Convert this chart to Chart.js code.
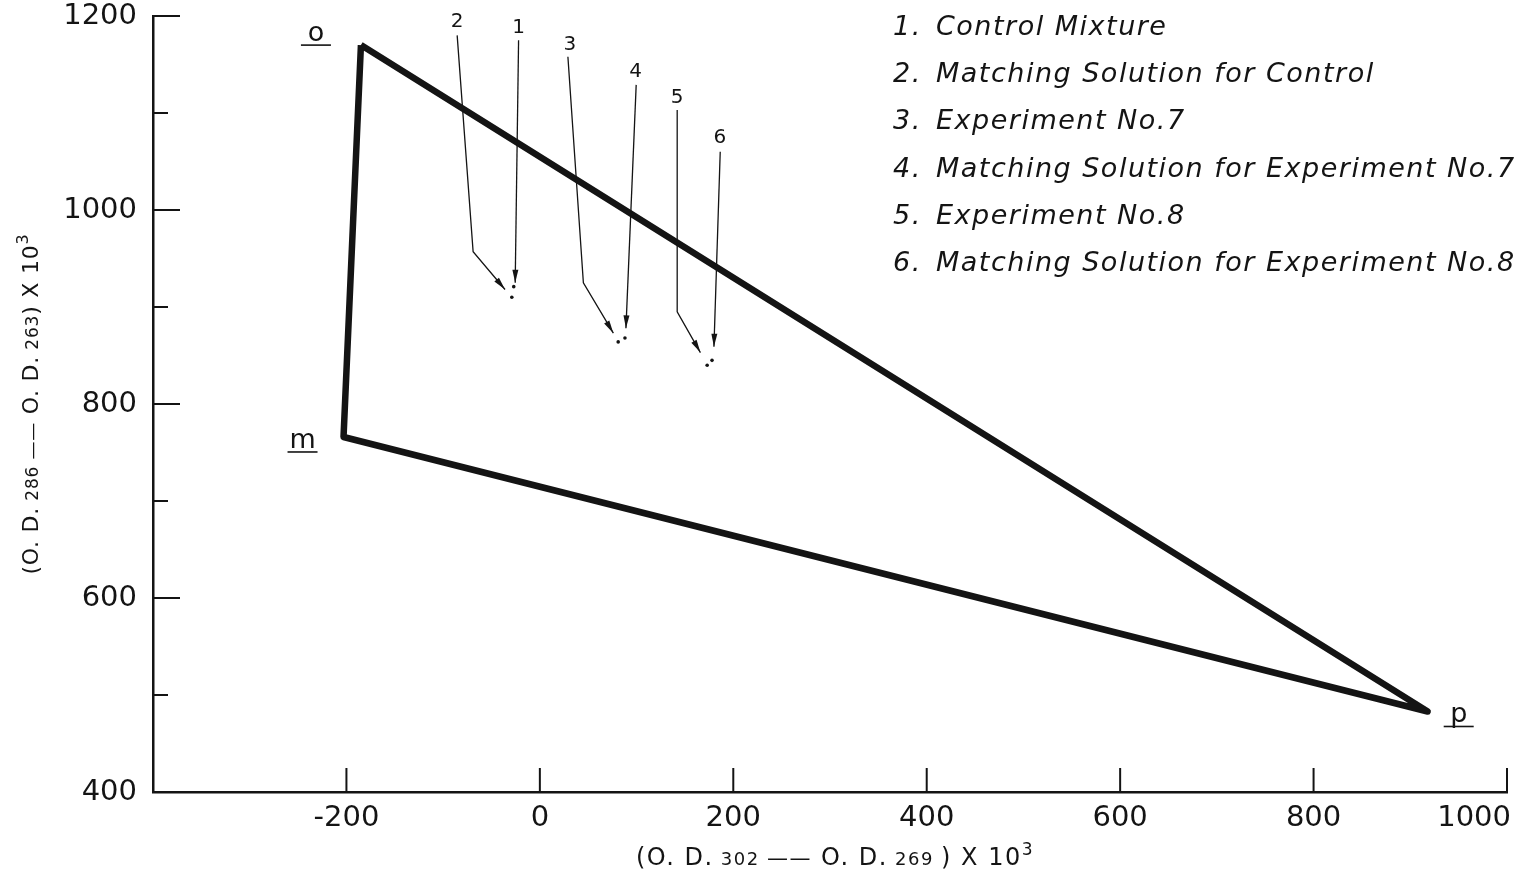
<!DOCTYPE html>
<html>
<head>
<meta charset="utf-8">
<script src="https://cdn.jsdelivr.net/npm/chart.js@4/dist/chart.umd.min.js"></script>
<style>
  html, body { margin: 0; padding: 0; background: #fff; }
  #wrap { width: 1528px; height: 876px; }
</style>
</head>
<body>
<div id="wrap"><canvas id="triChart" width="1528" height="876"></canvas></div>
<script>
// triangle o-m-p (x = O.D.302 - O.D.269, y = O.D.286 - O.D.263, both x10^3)
const vertexNames = ["o", "m", "p"];
const vertexX = [-185, -203, 918];
const vertexY = [1170, 766, 483];

// measured mixtures 1..6
const pointNames = ["1", "2", "3", "4", "5", "6"];
const pointX = [-27, -29, 81, 88, 173, 178];
const pointY = [921, 910, 864, 868, 840, 845];

// leader lines from each number down to its point (data units)
const leaderPaths = [
	[[-22, 1175], [-25.5, 925]],
	[[-85.5, 1180], [-69, 957], [-36, 918]],
	[[29, 1158], [45, 925], [76, 873]],
	[[99.6, 1129], [89, 878]],
	[[142, 1103], [142, 895], [166, 853]],
	[[186.5, 1060], [180, 859]],
];
const leaderLabelX = [-22, -85.5, 31, 99, 142, 186];
const leaderLabelY = [1188, 1194, 1170, 1142, 1116, 1074];

const legendItems = [
	"Control Mixture",
	"Matching Solution for Control",
	"Experiment No.7",
	"Matching Solution for Experiment No.7",
	"Experiment No.8",
	"Matching Solution for Experiment No.8",
];

// axis ticks
const xMin = -400, xMax = 1000, xStep = 200;
const yMin = 400, yMax = 1200, yStep = 100;
const yLabelEvery = 200;

const INK = "#141414";
const FONT = "'DejaVu Sans', sans-serif";

const triangle = vertexX.map((x, i) => ({ x: x, y: vertexY[i] }));
triangle.push({ x: vertexX[0], y: vertexY[0] });
const points = pointX.map((x, i) => ({ x: x, y: pointY[i] }));

// draws a run of text pieces with different sizes, centred on x
function drawRich(ctx, parts, x, y, spacing) {
	ctx.letterSpacing = spacing + "px";
	let total = 0;
	parts.forEach((p) => {
		ctx.font = p.size + "px " + FONT;
		p.w = ctx.measureText(p.t).width;
		total += p.w;
	});
	let cx = x - total / 2;
	ctx.textAlign = "left";
	ctx.textBaseline = "alphabetic";
	parts.forEach((p) => {
		ctx.font = p.size + "px " + FONT;
		ctx.fillText(p.t, cx, y - (p.rise || 0));
		cx += p.w;
	});
	ctx.letterSpacing = "0px";
}

const decorations = {
	id: "decorations",
	afterDraw(chart) {
		const ctx = chart.ctx;
		const xs = chart.scales.x, ys = chart.scales.y;
		const area = chart.chartArea;
		ctx.save();
		ctx.strokeStyle = INK;
		ctx.fillStyle = INK;

		// inward tick marks
		ctx.lineWidth = 2;
		ys.ticks.forEach((t) => {
			if (t.value === yMin) return;
			const py = ys.getPixelForValue(t.value);
			const len = t.value % yLabelEvery === 0 ? 27 : 15;
			ctx.beginPath();
			ctx.moveTo(area.left, py);
			ctx.lineTo(area.left + len, py);
			ctx.stroke();
		});
		xs.ticks.forEach((t) => {
			if (t.value === xMin) return;
			const px = xs.getPixelForValue(t.value);
			ctx.beginPath();
			ctx.moveTo(px, area.bottom);
			ctx.lineTo(px, area.bottom - 24);
			ctx.stroke();
		});

		// last x label sits inside the right edge
		ctx.font = "29px " + FONT;
		ctx.textAlign = "right";
		ctx.textBaseline = "middle";
		ctx.fillText(String(xMax), xs.getPixelForValue(xMax) + 4, area.bottom + 26);

		// leader lines with arrow heads
		ctx.lineWidth = 1.3;
		leaderPaths.forEach((path, i) => {
			const pts = path.map((p) => [xs.getPixelForValue(p[0]), ys.getPixelForValue(p[1])]);
			ctx.beginPath();
			pts.forEach((p, k) => (k ? ctx.lineTo(p[0], p[1]) : ctx.moveTo(p[0], p[1])));
			ctx.stroke();
			const a = pts[pts.length - 2], b = pts[pts.length - 1];
			const ang = Math.atan2(b[1] - a[1], b[0] - a[0]);
			ctx.beginPath();
			ctx.moveTo(b[0], b[1]);
			ctx.lineTo(b[0] - 13 * Math.cos(ang) + 3 * Math.sin(ang), b[1] - 13 * Math.sin(ang) - 3 * Math.cos(ang));
			ctx.lineTo(b[0] - 13 * Math.cos(ang) - 3 * Math.sin(ang), b[1] - 13 * Math.sin(ang) + 3 * Math.cos(ang));
			ctx.closePath();
			ctx.fill();

			ctx.font = "20px " + FONT;
			ctx.textAlign = "center";
			ctx.textBaseline = "middle";
			ctx.fillText(pointNames[i], xs.getPixelForValue(leaderLabelX[i]), ys.getPixelForValue(leaderLabelY[i]));
		});

		// underlined vertex letters
		const vOff = [[-45, -4], [-41, 11], [31, 11]];
		ctx.font = "27px " + FONT;
		ctx.textAlign = "center";
		ctx.textBaseline = "alphabetic";
		ctx.lineWidth = 1.6;
		vertexNames.forEach((n, i) => {
			const px = xs.getPixelForValue(vertexX[i]) + vOff[i][0];
			const py = ys.getPixelForValue(vertexY[i]) + vOff[i][1];
			ctx.fillText(n, px, py);
			ctx.beginPath();
			ctx.moveTo(px - 15, py + 4);
			ctx.lineTo(px + 15, py + 4);
			ctx.stroke();
		});

		// numbered key, top right
		ctx.font = "italic 27px " + FONT;
		ctx.letterSpacing = "1.5px";
		ctx.textAlign = "left";
		ctx.textBaseline = "middle";
		legendItems.forEach((txt, i) => {
			const ly = 28 + i * 47.2;
			ctx.fillText((i + 1) + ".", 893, ly);
			ctx.fillText(txt, 936, ly);
		});
		ctx.letterSpacing = "0px";

		// axis titles
		drawRich(ctx, [
			{ t: "(O. D.", size: 24 },
			{ t: " 302 ", size: 18 },
			{ t: "——", size: 21 },
			{ t: " O. D.", size: 24 },
			{ t: " 269 ", size: 18 },
			{ t: ") X 10", size: 24 },
			{ t: "3", size: 17, rise: 10 },
		], (area.left + area.right) / 2 + 5, 865, 1.5);

		ctx.translate(27, (area.top + area.bottom) / 2);
		ctx.rotate(-Math.PI / 2);
		drawRich(ctx, [
			{ t: "(O. D.", size: 22 },
			{ t: " 286 ", size: 17 },
			{ t: "——", size: 18 },
			{ t: " O. D.", size: 22 },
			{ t: " 263", size: 17 },
			{ t: ") X 10", size: 22 },
			{ t: "3", size: 16, rise: 10 },
		], 0, 11, 0.8);
		ctx.restore();
	},
};

const tickFont = { family: FONT, size: 29, lineHeight: 1 };

new Chart(document.getElementById("triChart"), {
	type: "scatter",
	data: {
		datasets: [
			{
				label: "o-m-p",
				data: triangle,
				showLine: true,
				borderColor: INK,
				borderWidth: 6.5,
				borderJoinStyle: "round",
				tension: 0,
				pointRadius: 0,
			},
			{
				label: "mixtures",
				data: points,
				showLine: false,
				backgroundColor: INK,
				borderWidth: 0,
				pointRadius: 1.8,
			},
		],
	},
	options: {
		responsive: false,
		devicePixelRatio: 1,
		animation: false,
		layout: { padding: { left: 0, top: 16, right: 21, bottom: 0 } },
		plugins: { legend: { display: false }, tooltip: { enabled: false } },
		scales: {
			x: {
				type: "linear",
				min: xMin,
				max: xMax,
				grid: { display: false, drawTicks: false },
				border: { display: true, color: INK, width: 2.5 },
				ticks: {
					stepSize: xStep,
					color: INK,
					font: tickFont,
					padding: 12,
					maxRotation: 0,
					callback: (v) => (v === xMin || v === xMax ? "" : v),
				},
				afterFit: (s) => {
					s.height = 84;
					s.paddingLeft = 0;
					s.paddingRight = 0;
				},
			},
			y: {
				type: "linear",
				min: yMin,
				max: yMax,
				grid: { display: false, drawTicks: false },
				border: { display: true, color: INK, width: 2.5 },
				ticks: {
					stepSize: yStep,
					color: INK,
					font: tickFont,
					padding: 16,
					callback: (v) => (v % yLabelEvery === 0 ? v : ""),
				},
				afterFit: (s) => {
					s.width = 153;
					s.paddingTop = 0;
					s.paddingBottom = 0;
				},
			},
		},
	},
	plugins: [decorations],
});
</script>
</body>
</html>
